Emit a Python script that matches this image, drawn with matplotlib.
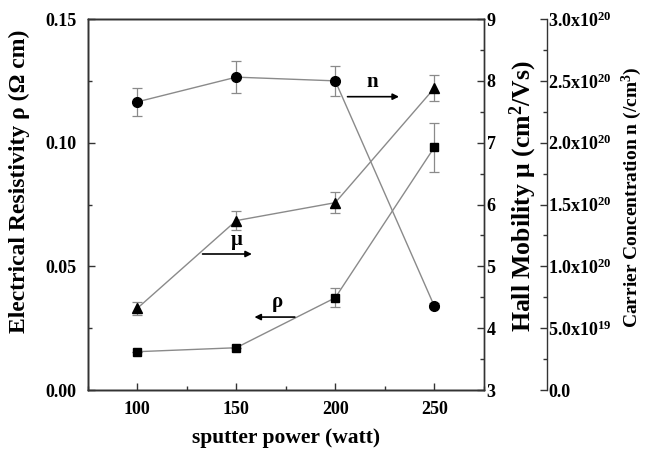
import matplotlib
matplotlib.use("Agg")
import matplotlib.pyplot as plt
from matplotlib.ticker import FixedLocator, MultipleLocator, FormatStrFormatter

plt.rcParams["font.family"] = "Liberation Serif"
plt.rcParams["font.weight"] = "bold"
plt.rcParams["axes.labelweight"] = "bold"
plt.rcParams["mathtext.fontset"] = "custom"
plt.rcParams["mathtext.rm"] = "Liberation Serif:bold"
plt.rcParams["mathtext.bf"] = "Liberation Serif:bold"
plt.rcParams["mathtext.it"] = "Liberation Serif:bold"
plt.rcParams["mathtext.default"] = "bf"

# data
power = [100, 150, 200, 250]
rho = [0.0155, 0.0171, 0.0373, 0.0981]
rho_err = [0.0, 0.0, 0.0038, 0.0098]
mobility = [4.32, 5.74, 6.03, 7.88]
mobility_err = [0.10, 0.16, 0.17, 0.21]
carrier = [2.33e20, 2.53e20, 2.50e20, 0.68e20]
carrier_err = [0.115e20, 0.13e20, 0.12e20, 0.02e20]

carrier_ticks = [0, 0.5e20, 1.0e20, 1.5e20, 2.0e20, 2.5e20, 3.0e20]
carrier_labels = ["0.0", r"5.0x10$^{19}$", r"1.0x10$^{20}$", r"1.5x10$^{20}$",
                  r"2.0x10$^{20}$", r"2.5x10$^{20}$", r"3.0x10$^{20}$"]

line_col = "#8a8a8a"

fig = plt.figure(figsize=(6.45, 4.53), dpi=100)
ax = fig.add_axes([0.136, 0.139, 0.614, 0.819])
ax2 = ax.twinx()
ax3 = ax.twinx()
ax3.spines["right"].set_position(("axes", 1.159))
for a in (ax, ax2, ax3):
    a.set_facecolor("none")
    for s in a.spines.values():
        s.set_color("#333333")
        s.set_linewidth(1.0)

eb = dict(color=line_col, ecolor=line_col, elinewidth=0.9, capsize=3.5, capthick=0.9,
          lw=1.0, mfc="black", mec="black")
ax.errorbar(power, rho, yerr=rho_err, marker="s", ms=6, **eb)
ax2.errorbar(power, mobility, yerr=mobility_err, marker="^", ms=7, **eb)
ax3.errorbar(power, carrier, yerr=carrier_err, marker="o", ms=7, **eb)

ax.set_xlim(75, 275)
ax.set_ylim(0, 0.15)
ax2.set_ylim(3, 9)
ax3.set_ylim(0, 3.0e20)

ax.xaxis.set_major_locator(MultipleLocator(50))
ax.xaxis.set_minor_locator(MultipleLocator(25))
ax.yaxis.set_major_locator(MultipleLocator(0.05))
ax.yaxis.set_minor_locator(MultipleLocator(0.025))
ax.yaxis.set_major_formatter(FormatStrFormatter("%.2f"))
ax2.yaxis.set_major_locator(MultipleLocator(1))
ax2.yaxis.set_minor_locator(MultipleLocator(0.5))
ax3.yaxis.set_major_locator(FixedLocator(carrier_ticks))
ax3.set_yticklabels(carrier_labels)
ax3.yaxis.set_minor_locator(MultipleLocator(0.25e20))

for a in (ax, ax2, ax3):
    a.tick_params(which="major", direction="in", length=5, width=1, labelsize=13, color="#333333")
    a.tick_params(which="minor", direction="in", length=3, width=1, color="#333333")
ax.tick_params(axis="x", pad=8)
ax.tick_params(axis="y", pad=8)
ax2.tick_params(axis="y", pad=2)
ax3.tick_params(axis="y", pad=1)

ax.set_xlabel("sputter power (watt)", fontsize=15.5, labelpad=7)
ax.set_ylabel(r"Electrical Resistivity ρ (Ω cm)", fontsize=17)
ax2.set_ylabel(r"Hall Mobility μ (cm$^2$/Vs)", fontsize=18.5)
ax3.set_ylabel(r"Carrier Concentration n (/cm$^3$)", fontsize=14)
ax.yaxis.set_label_coords(-0.146, 0.563)
ax2.yaxis.set_label_coords(1.061, 0.523)
ax3.yaxis.set_label_coords(1.343, 0.52)

arrow = dict(arrowstyle="-|>", color="black", lw=1.2, mutation_scale=9)
ax.annotate("", xy=(233.6, 0.1186), xytext=(204.8, 0.1186), arrowprops=arrow)
ax.text(218.9, 0.1245, "n", fontsize=15, ha="center", va="center")
ax.annotate("", xy=(159.3, 0.055), xytext=(131.6, 0.055), arrowprops=arrow)
ax.text(150.3, 0.0606, "μ", fontsize=15, ha="center", va="center")
ax.annotate("", xy=(157.8, 0.0295), xytext=(181.0, 0.0295), arrowprops=arrow)
ax.text(171.0, 0.0356, "ρ", fontsize=15, ha="center", va="center")

fig.savefig("out.png", dpi=100)
